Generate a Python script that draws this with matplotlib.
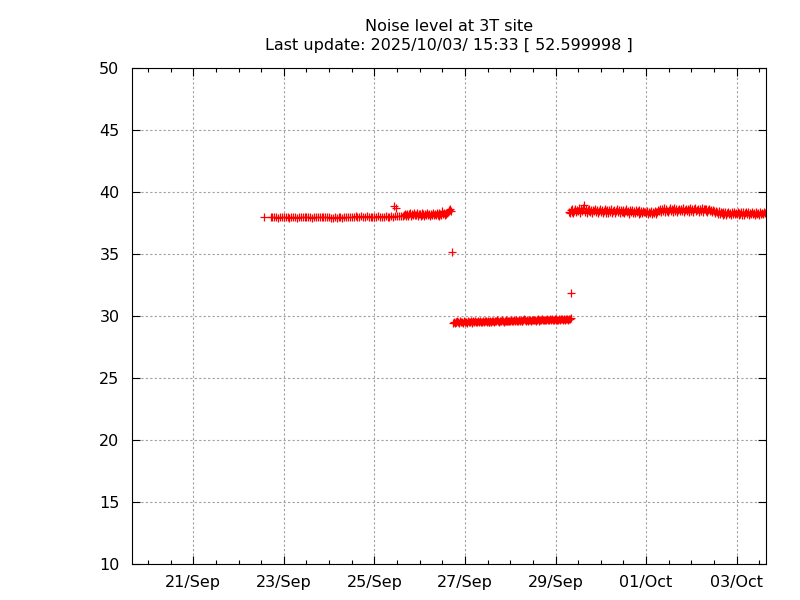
import pandas as pd
import numpy as np
import matplotlib
matplotlib.use('Agg')
import matplotlib.pyplot as plt
import matplotlib.dates as mdates

# Data (noise level, time series with 30 min / 1 h sampling)
title_text = 'Noise level at 3T site\nLast update: 2025/10/03/ 15:33 [ 52.599998 ]'
x_start = '2025-09-19 15:33'
x_end = '2025-10-03 15:33'

# segment 1: hourly samples, 22 Sep 17:00 -> 25 Sep 15:00
seg1_start = '2025-09-22 17:00'
seg1_vals = [37.98, 37.95, 38.00, 37.96, 37.94, 37.99, 37.97,
             37.95, 38.00, 37.96, 37.93, 37.98, 38.01, 37.96, 37.94, 37.99, 37.97, 38.02, 37.96,
             37.95, 37.99, 37.97, 37.94, 37.98, 38.00, 37.96, 37.97, 37.99, 37.95, 37.98, 37.96,
             37.97, 37.94, 37.92, 37.96, 37.93, 37.95, 37.98, 37.94, 37.96, 37.99, 38.01, 37.97,
             37.95, 38.00, 38.03, 37.98, 38.02, 38.04, 37.99, 38.01, 38.03, 37.98, 38.00, 38.02,
             38.01, 37.98, 38.03, 38.00, 37.97, 38.02, 38.04, 37.99, 38.01, 38.05, 38.02, 38.06,
             38.03, 38.04, 38.08, 38.05]

# segment 2: 30 min samples, 25 Sep 15:30 -> 26 Sep 16:30
seg2_start = '2025-09-25 15:30'
seg2_vals = [38.12, 38.22, 38.06, 38.15, 38.26, 38.10, 38.19, 38.28, 38.08, 38.21, 38.13, 38.27,
             38.11, 38.18, 38.29, 38.09, 38.20,
             38.24, 38.10, 38.28, 38.14, 38.22, 38.08, 38.25, 38.17, 38.30, 38.12, 38.23, 38.07,
             38.26, 38.15, 38.31, 38.11, 38.24, 38.18, 38.32, 38.13, 38.27, 38.09, 38.22, 38.16,
             38.45, 38.20, 38.29, 38.12, 38.26, 38.34, 38.40, 38.58, 38.65, 38.50]

# segment 3: 30 min samples, 26 Sep 17:30 -> 29 Sep 08:00
seg3_start = '2025-09-26 17:30'
seg3_vals = [29.45, 29.52, 29.40, 29.55, 29.48, 29.58, 29.50, 29.44, 29.56, 29.49, 29.53, 29.47, 29.57,
             29.50, 29.55, 29.46, 29.58, 29.52, 29.49, 29.60, 29.53, 29.47, 29.56, 29.51, 29.59,
             29.54, 29.48, 29.57, 29.52, 29.61, 29.55, 29.50, 29.58, 29.53, 29.62, 29.56, 29.51,
             29.59, 29.54, 29.49, 29.60, 29.55, 29.63, 29.57, 29.52, 29.60, 29.56, 29.64, 29.58,
             29.53, 29.61, 29.57, 29.65, 29.59, 29.54, 29.62, 29.58, 29.66, 29.60, 29.56, 29.63,
             29.59, 29.66, 29.61, 29.57, 29.64, 29.60, 29.68, 29.62, 29.58, 29.65, 29.61, 29.69,
             29.63, 29.59, 29.66, 29.72, 29.64, 29.60, 29.67, 29.63, 29.70, 29.65, 29.61, 29.68,
             29.64, 29.71, 29.66, 29.62, 29.69, 29.75, 29.67, 29.63, 29.70, 29.66, 29.73, 29.68,
             29.64, 29.71, 29.67, 29.76, 29.69, 29.65, 29.72, 29.68, 29.74, 29.70, 29.66, 29.73,
             29.69, 29.75, 29.71, 29.67, 29.74, 29.70, 29.77, 29.72, 29.68, 29.75, 29.71, 29.78,
             29.73, 29.69, 29.76, 29.72, 29.80]

# segment 4: 30 min samples, 29 Sep 07:00 -> 03 Oct 15:30
seg4_start = '2025-09-29 07:00'
seg4_vals = [38.42, 38.30, 38.55, 38.38, 38.62, 38.28, 38.50, 38.66, 38.35, 38.58, 38.44, 38.70,
             38.32, 38.60, 38.47, 38.74, 38.92, 38.40, 38.63, 38.33, 38.55, 38.46, 38.62, 38.36,
             38.52, 38.30, 38.58, 38.43, 38.64, 38.37, 38.55, 38.32, 38.49, 38.60,
             38.38, 38.56, 38.30, 38.50, 38.62, 38.34, 38.47, 38.58, 38.28, 38.52, 38.40, 38.60,
             38.33, 38.48, 38.55, 38.29, 38.45, 38.61, 38.36, 38.51, 38.27, 38.57, 38.42, 38.35,
             38.54, 38.31, 38.49, 38.59, 38.37, 38.46, 38.26, 38.53, 38.40, 38.57, 38.32, 38.48,
             38.28, 38.55, 38.38, 38.44, 38.25, 38.52, 38.34, 38.47, 38.29, 38.50, 38.36, 38.42,
             38.30, 38.45, 38.24, 38.40, 38.28, 38.48, 38.22, 38.38, 38.31, 38.46, 38.26, 38.42,
             38.38, 38.58, 38.45, 38.66, 38.40, 38.60, 38.48, 38.70, 38.42, 38.62, 38.50, 38.36,
             38.56, 38.68, 38.44, 38.63, 38.38, 38.58, 38.72, 38.46, 38.61, 38.40, 38.57, 38.66,
             38.43, 38.60, 38.50, 38.69, 38.41, 38.58, 38.64, 38.45, 38.62, 38.39, 38.56, 38.67,
             38.46, 38.64, 38.40, 38.60, 38.70, 38.44, 38.58, 38.66, 38.42, 38.62, 38.48, 38.68,
             38.41, 38.59, 38.65, 38.45, 38.61, 38.39, 38.57, 38.64, 38.43, 38.55, 38.38, 38.52,
             38.44, 38.30, 38.48, 38.35, 38.26, 38.45, 38.20, 38.40, 38.32, 38.18, 38.38, 38.24,
             38.36, 38.14, 38.33, 38.40, 38.20, 38.30, 38.16, 38.37, 38.25, 38.42, 38.19, 38.32,
             38.22, 38.38, 38.15, 38.33, 38.26, 38.42, 38.18, 38.35, 38.12, 38.30, 38.40, 38.20,
             38.36, 38.16, 38.31, 38.24, 38.41, 38.19, 38.34, 38.13, 38.29, 38.39, 38.21, 38.33,
             38.17, 38.37, 38.25, 38.30, 38.19, 38.35, 38.27, 38.32]

# isolated points
extra_times = ['2025-09-22 13:30', '2025-09-25 10:30', '2025-09-25 11:30',
               '2025-09-26 17:00', '2025-09-29 08:00']
extra_vals = [37.98, 38.88, 38.72, 35.15, 31.85]

tick_days = ['2025-09-21', '2025-09-23', '2025-09-25', '2025-09-27',
             '2025-09-29', '2025-10-01', '2025-10-03']
y_ticks = [10, 15, 20, 25, 30, 35, 40, 45, 50]

t1 = pd.date_range(seg1_start, periods=len(seg1_vals), freq='1h')
t2 = pd.date_range(seg2_start, periods=len(seg2_vals), freq='30min')
t3 = pd.date_range(seg3_start, periods=len(seg3_vals), freq='30min')
t4 = pd.date_range(seg4_start, periods=len(seg4_vals), freq='30min')
times = list(t1) + list(t2) + list(t3) + list(t4) + list(pd.to_datetime(extra_times))
vals = seg1_vals + seg2_vals + seg3_vals + seg4_vals + extra_vals

plt.rcParams['font.family'] = 'DejaVu Sans'
fig = plt.figure(figsize=(8, 6), dpi=100)
ax = fig.add_axes([0.165, 0.06, 0.7925, 0.8267])

ax.plot(times, vals, linestyle='none', marker='+', color='red',
        markersize=5.5, markeredgewidth=0.9)

ax.set_xlim(pd.Timestamp(x_start), pd.Timestamp(x_end))
ax.set_ylim(10, 50)
ax.set_yticks(y_ticks)
ax.set_xticks(pd.to_datetime(tick_days))
ax.xaxis.set_major_formatter(mdates.DateFormatter('%d/%b'))
ax.xaxis.set_minor_locator(mdates.HourLocator(byhour=[0, 12]))
ax.yaxis.set_minor_locator(plt.NullLocator())

ax.tick_params(which='both', direction='in', top=True, right=True,
               labelsize=11.5, width=0.8)
ax.tick_params(axis='x', pad=8)
ax.tick_params(axis='y', pad=9)
ax.tick_params(which='major', length=6)
ax.tick_params(which='minor', length=3)
ax.grid(True, which='major', color='#a0a0a0', linestyle=(0, (2, 2)), linewidth=0.8)
for s in ax.spines.values():
    s.set_linewidth(0.8)

ax.set_title(title_text, fontsize=11.5, pad=13, linespacing=1.3)

fig.savefig('out.png', dpi=100)
